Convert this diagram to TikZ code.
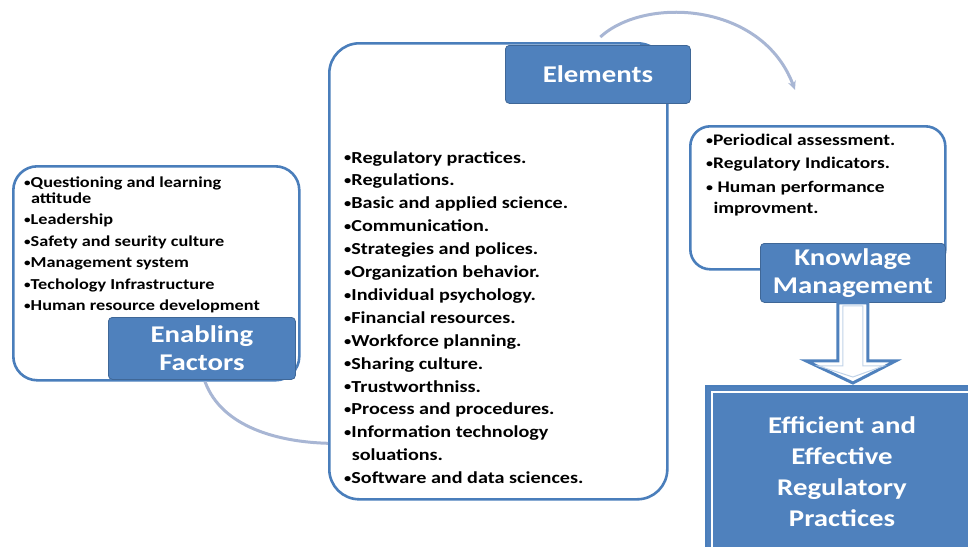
\documentclass[tikz,border=0pt]{standalone}
\usepackage{fontspec}
\usepackage{graphicx}
\setmainfont{Carlito}[FakeStretch=1.2]
\usetikzlibrary{arrows.meta,calc}
\definecolor{bfill}{RGB}{79,129,189}
\definecolor{bline}{RGB}{74,126,187}
\definecolor{arccol}{RGB}{168,182,212}
\newcommand\bu{\raisebox{0.07em}{\scalebox{0.72}{•}}}
\begin{document}
\begin{tikzpicture}[x=1pt,y=-1pt,
  panel/.style={draw=bline, line width=2.6pt, rounded corners=24pt, fill=white, inner sep=0pt, anchor=north west},
  titlebox/.style={fill=bfill, draw=bfill!80!black, line width=0.8pt, rounded corners=4pt, text=white,
    font=\bfseries\fontsize{24}{28}\selectfont, align=center, inner sep=0pt, anchor=north west},
  listtext/.style={anchor=north west, inner sep=0pt, align=left},
  flow/.style={draw=arccol, line width=3pt}]
\useasboundingbox (0,0) rectangle (968,546);

\coordinate (arcend) at (795,90);

% panels
\node[panel, minimum width=286pt, minimum height=214pt] (efpanel) at (12,165) {};
\node[panel, minimum width=338pt, minimum height=456pt, rounded corners=30pt] (elpanel) at (328,42) {};
\node[panel, minimum width=255pt, minimum height=143pt, rounded corners=20pt] (kmpanel) at (689,125) {};

% curved connectors
\draw[flow, -{Stealth[length=9pt,width=8pt]}] ([xshift=102pt,yshift=5pt]elpanel.north) .. controls (645,-4) and (762,2) .. (arcend);
\draw[flow] ([xshift=2pt]efpanel.south -| 203,0) .. controls (222,428) and (280,442) .. ([yshift=-172pt]elpanel.west);

% lists
\node[listtext, font=\bfseries\fontsize{15.2}{16}\selectfont] (eflist) at (24,177) {%
\bu Questioning and learning\\
\hspace*{0.45em}attitude\\[5pt]
\bu Leadership\\[5.5pt]
\bu Safety and seurity culture\\[5.5pt]
\bu Management system\\[5.5pt]
\bu Techology Infrastructure\\[5.5pt]
\bu Human resource development};

\node[listtext, font=\bfseries\fontsize{16.8}{22.9}\selectfont] (ellist) at (344,151) {%
\bu Regulatory practices.\\
\bu Regulations.\\
\bu Basic and applied science.\\
\bu Communication.\\
\bu Strategies and polices.\\
\bu Organization behavior.\\
\bu Individual psychology.\\
\bu Financial resources.\\
\bu Workforce planning.\\
\bu Sharing culture.\\
\bu Trustworthniss.\\
\bu Process and procedures.\\
\bu Information technology\\
\hspace*{0.45em}soluations.\\
\bu Software and data sciences.};

\node[listtext, font=\bfseries\fontsize{16.2}{21}\selectfont] (kmlist) at (706,134) {%
\bu Periodical assessment.\\[2pt]
\bu Regulatory Indicators.\\[3pt]
\bu\ Human performance\\
\hspace*{0.45em}improvment.};

% title boxes
\node[titlebox, minimum width=187pt, minimum height=62pt] (eftitle) at (108,317) {Enabling\\Factors};
\node[titlebox, minimum width=185pt, minimum height=58pt] (eltitle) at (505,45) {Elements};
\node[titlebox, minimum width=185pt, minimum height=59pt] (kmtitle) at (760,243) {Knowlage\\Management};

% result box
\node[anchor=north west, fill=bfill, draw=bline, line width=2pt, minimum width=272pt, minimum height=172pt,
  inner sep=0pt, text=white, align=center, font=\bfseries\fontsize{24}{31}\selectfont] (eff) at (705,385)
  {Efficient and\\Effective\\Regulatory\\Practices};
\draw[white, line width=1.8pt] ([xshift=7pt,yshift=-7pt]eff.north west) rectangle (990,560);

% hollow block arrow
\draw[draw=bfill, line width=3pt, fill=white, line join=miter]
  ($(kmtitle.south)+(-15,0)$) -- ($(kmtitle.south)+(15,0)$) -- ($(kmtitle.south)+(15,58)$)
  -- ($(kmtitle.south)+(43,58)$) -- ($(eff.north -| kmtitle.south)+(0,-2)$)
  -- ($(kmtitle.south)+(-47,58)$) -- ($(kmtitle.south)+(-15,58)$) -- cycle;
\draw[draw=bfill!35, line width=1pt]
  ($(kmtitle.south)+(-10,3)$) -- ($(kmtitle.south)+(10,3)$) -- ($(kmtitle.south)+(10,63)$)
  -- ($(kmtitle.south)+(31,63)$) -- ($(eff.north -| kmtitle.south)+(0,-8)$)
  -- ($(kmtitle.south)+(-35,63)$) -- ($(kmtitle.south)+(-10,63)$) -- cycle;
\end{tikzpicture}
\end{document}
